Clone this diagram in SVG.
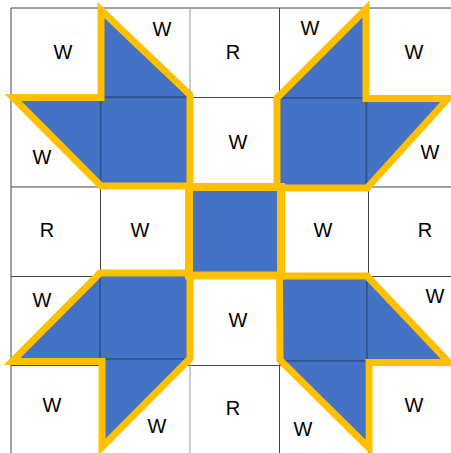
<svg xmlns="http://www.w3.org/2000/svg" width="451" height="453" viewBox="0 0 451 453">
<style>
.grid{stroke:#444;stroke-width:1;fill:none}
.piece{fill:#4472C4;stroke:#2F528F;stroke-width:1.5;stroke-linejoin:miter}
.edge{fill:none;stroke:#FFC000;stroke-width:7;stroke-linejoin:miter;stroke-miterlimit:10}
.lbl{font-family:"Liberation Sans",Arial,sans-serif;font-size:20px;fill:#000;text-anchor:middle}
</style>
<rect x="0" y="0" width="451" height="453" fill="#fff"/>
<g id="grid" class="grid">
<line x1="11" y1="8" x2="451" y2="8"/>
<line x1="11" y1="97.5" x2="451" y2="97.5"/>
<line x1="11" y1="187" x2="451" y2="187"/>
<line x1="11" y1="276.5" x2="451" y2="276.5"/>
<line x1="11" y1="365.5" x2="451" y2="365.5"/>
<line x1="11" y1="8" x2="11" y2="453"/>
<line x1="100.5" y1="8" x2="100.5" y2="453"/>
<line x1="190" y1="8" x2="190" y2="453" stroke="#999"/>
<line x1="279.5" y1="8" x2="279.5" y2="453"/>
<line x1="368.5" y1="8" x2="368.5" y2="453"/>
</g>
<g id="shape-top-left">
<polygon class="piece" points="102,13 187,97 102,97"/>
<rect class="piece" x="100.5" y="97.5" width="89.5" height="89"/>
<polygon class="piece" points="16,100 100.5,100 100.5,184"/>
<path class="edge" d="M101,10 L190,95 V186 H101 L13,97.5 H101 Z"/>
</g>
<g id="shape-top-right">
<polygon class="piece" points="281,98 364,13 364,98"/>
<rect class="piece" x="279.5" y="98" width="87" height="89"/>
<polygon class="piece" points="366.5,101 444,101 366.5,185"/>
<path class="edge" d="M277,98 L366,9 V98.5 H448 L367,188 H277 Z"/>
</g>
<g id="shape-bottom-left">
<polygon class="piece" points="17,359 100,276 100,359"/>
<rect class="piece" x="100" y="274" width="89" height="85"/>
<polygon class="piece" points="103,359 187,359 103,444"/>
<path class="edge" d="M100,273 H190 V358.5 L102,447 V361.5 H12 Z"/>
</g>
<g id="shape-bottom-right">
<rect class="piece" x="281" y="277" width="86" height="84"/>
<polygon class="piece" points="367,277 446,360 367,360"/>
<polygon class="piece" points="282,361 366,361 366,445"/>
<path class="edge" d="M279.5,276 H367 L449,362.5 H369 V448 L280,360 Z"/>
</g>
<g id="center-square">
<rect x="189" y="187" width="92" height="88.5" fill="#4472C4" stroke="#FFC000" stroke-width="8"/>
</g>
<g id="labels" class="lbl">
<text x="63" y="59">W</text>
<text x="162" y="36">W</text>
<text x="233" y="59">R</text>
<text x="310" y="35">W</text>
<text x="414" y="59">W</text>
<text x="42" y="164">W</text>
<text x="238" y="149">W</text>
<text x="430" y="159">W</text>
<text x="47" y="237">R</text>
<text x="140" y="237">W</text>
<text x="323" y="237">W</text>
<text x="425" y="237">R</text>
<text x="42" y="307">W</text>
<text x="238" y="327">W</text>
<text x="435" y="303">W</text>
<text x="52" y="412">W</text>
<text x="157" y="433">W</text>
<text x="233" y="415">R</text>
<text x="303" y="436">W</text>
<text x="414" y="412">W</text>
</g>
</svg>
